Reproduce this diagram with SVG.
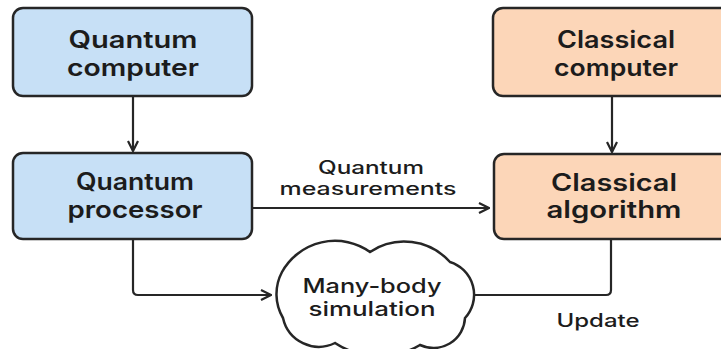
<svg xmlns="http://www.w3.org/2000/svg" width="721" height="349" viewBox="0 0 721 349">
<style>
.box{stroke:#262626;stroke-width:2.5}
.q{fill:#c7e0f6}
.c{fill:#fcd6b8}
text{font-family:Inter,"Liberation Sans",Arial,sans-serif;fill:#1c1c1c;text-anchor:middle;font-weight:600}
.t{font-size:24px}
.l{font-size:18px;font-weight:500}
.s{font-size:20px;font-weight:500}
.line{fill:none;stroke:#262626;stroke-width:2.2}
</style>
<defs>
<marker id="ah" viewBox="0 0 12 12" refX="11" refY="6" markerWidth="12" markerHeight="12" markerUnits="userSpaceOnUse" orient="auto">
<path d="M1,1 L11,6 L1,11" fill="none" stroke="#262626" stroke-width="2.2" stroke-linejoin="miter"/>
</marker>
</defs>
<rect width="721" height="349" fill="#ffffff"/>
<g id="connectors">
<line class="line" x1="133" y1="96" x2="133" y2="151" marker-end="url(#ah)"/>
<line class="line" x1="612" y1="96" x2="612" y2="152" marker-end="url(#ah)"/>
<line class="line" x1="252" y1="208" x2="489" y2="208" marker-end="url(#ah)"/>
<path class="line" d="M133,239 L133,290 Q133,295 138,295 L271,295" marker-end="url(#ah)"/>
<path class="line" d="M472,295 L606,295 Q611,295 611,290 L611,239"/>
<text class="l" x="371" y="174" textLength="106" lengthAdjust="spacingAndGlyphs">Quantum</text>
<text class="l" x="368" y="195" textLength="177" lengthAdjust="spacingAndGlyphs">measurements</text>
<text class="l" x="598" y="327" textLength="83" lengthAdjust="spacingAndGlyphs">Update</text>
</g>
<g id="quantum-computer">
<rect class="box q" x="13" y="8" width="239" height="88" rx="10"/>
<text class="t" x="133" y="48" textLength="129" lengthAdjust="spacingAndGlyphs">Quantum</text>
<text class="t" x="133" y="76" textLength="132" lengthAdjust="spacingAndGlyphs">computer</text>
</g>
<g id="classical-computer">
<rect class="box c" x="493" y="8" width="245" height="88" rx="10"/>
<text class="t" x="616" y="48" textLength="118" lengthAdjust="spacingAndGlyphs">Classical</text>
<text class="t" x="616" y="76" textLength="124" lengthAdjust="spacingAndGlyphs">computer</text>
</g>
<g id="quantum-processor">
<rect class="box q" x="13" y="153" width="239" height="86" rx="10"/>
<text class="t" x="135" y="190" textLength="118" lengthAdjust="spacingAndGlyphs">Quantum</text>
<text class="t" x="135" y="218" textLength="135" lengthAdjust="spacingAndGlyphs">processor</text>
</g>
<g id="classical-algorithm">
<rect class="box c" x="494" y="154" width="245" height="85" rx="10"/>
<text class="t" x="614" y="191" textLength="126" lengthAdjust="spacingAndGlyphs">Classical</text>
<text class="t" x="614" y="218" textLength="135" lengthAdjust="spacingAndGlyphs">algorithm</text>
</g>
<g id="many-body-simulation">
<path d="M282,272 A60.6,60.6 0 0 1 370,252 A61.6,61.6 0 0 1 450,262 A34.3,34.3 0 0 1 465,318 A31.6,31.6 0 0 1 420,345 A81,81 0 0 1 335,343 A36.7,36.7 0 0 1 283,318 A47,47 0 0 1 282,272 Z" fill="#ffffff" stroke="#262626" stroke-width="2.5"/>
<text class="s" x="372" y="293" textLength="139" lengthAdjust="spacingAndGlyphs">Many-body</text>
<text class="s" x="372" y="316" textLength="127" lengthAdjust="spacingAndGlyphs">simulation</text>
</g>
</svg>
